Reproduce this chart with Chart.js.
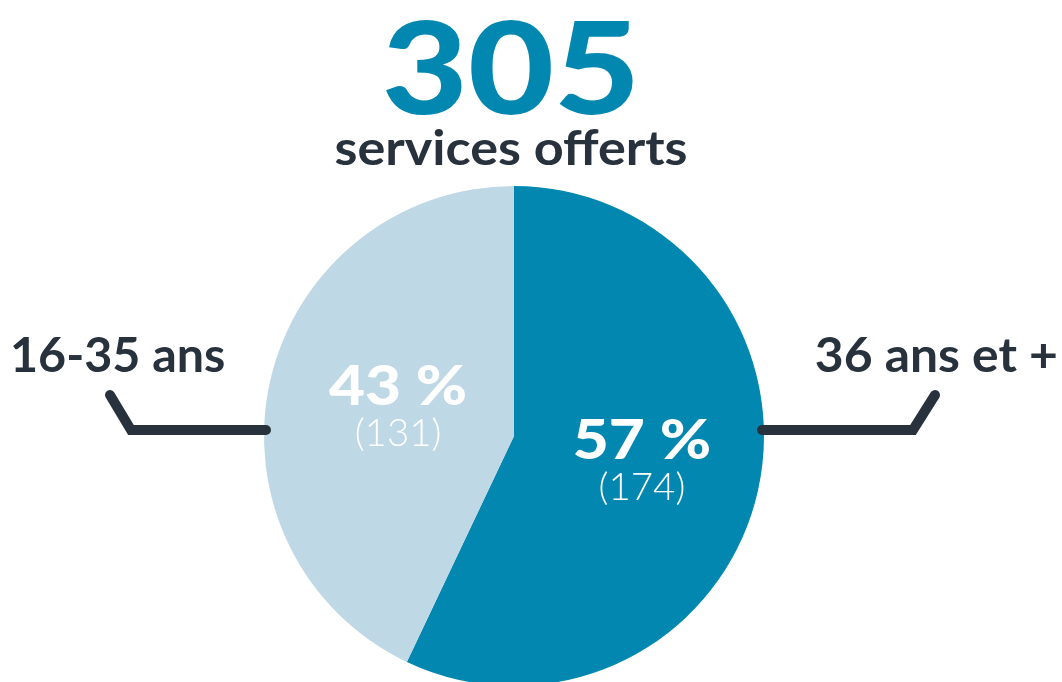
<!DOCTYPE html>
<html>
<head>
<meta charset="utf-8">
<script src="https://cdn.jsdelivr.net/npm/chart.js@4"></script>
<style>
  html, body { margin: 0; padding: 0; background: #fff; overflow: hidden; }
  #wrap { position: relative; width: 1062px; height: 686px; }
</style>
</head>
<body>
<div id="wrap"><canvas id="graph"></canvas></div>
<script>
// données
const categories = ["36 ans et +", "16-35 ans"];
const counts = [174, 131];
const percents = [57, 43];
const total = 305;
const colors = ["#0288b0", "#bfd8e6"];

const ink = "#28323c";
const FONT = "Lato, 'Noto Sans', sans-serif";

// texte élargi horizontalement (lettres plus larges, comme la police d'origine)
function wide(ctx, text, x, y, sx, align) {
  ctx.save();
  ctx.translate(x, y);
  ctx.scale(sx, 1);
  ctx.textAlign = align;
  ctx.fillText(text, 0, 0);
  ctx.restore();
}

// textes et traits autour du camembert
const annotations = {
  id: "annotations",
  afterDatasetsDraw(chart) {
    const ctx = chart.ctx;
    const arcs = chart.getDatasetMeta(0).data;
    const cx = arcs[0].x;
    const r = arcs[0].outerRadius;

    ctx.save();
    ctx.textBaseline = "alphabetic";

    // titre
    ctx.fillStyle = colors[0];
    ctx.font = "900 128px " + FONT;
    wide(ctx, String(total), 511, 114, 1.16, "center");
    ctx.fillStyle = ink;
    ctx.font = "bold 47px " + FONT;
    wide(ctx, "services offerts", 511, 165, 1.11, "center");

    // valeurs dans les parts
    arcs.forEach((arc, i) => {
      const p = arc.tooltipPosition();
      ctx.fillStyle = "#fff";
      ctx.font = "900 56px " + FONT;
      wide(ctx, percents[i] + " %", p.x + 6, p.y - 4, 1.11, "center");
      ctx.font = "300 37px " + FONT;
      wide(ctx, "(" + counts[i] + ")", p.x + 6, p.y + 37, 1.04, "center");
    });

    // étiquettes
    ctx.fillStyle = ink;
    ctx.font = "bold 47px " + FONT;
    wide(ctx, categories[1], 10, 372, 1.03, "left");
    wide(ctx, categories[0], 1058, 372, 1.06, "right");

    // traits
    ctx.strokeStyle = ink;
    ctx.lineWidth = 10;
    ctx.lineCap = "round";
    ctx.lineJoin = "miter";
    ctx.beginPath();
    ctx.moveTo(110, 395);
    ctx.lineTo(131, 430);
    ctx.lineTo(cx - r + 2, 430);
    ctx.stroke();
    ctx.beginPath();
    ctx.moveTo(cx + r - 2, 430);
    ctx.lineTo(913, 430);
    ctx.lineTo(935, 395);
    ctx.stroke();
    ctx.restore();
  },
};

new Chart(document.getElementById("graph"), {
  type: "pie",
  data: {
    labels: categories,
    datasets: [{
      data: counts,
      backgroundColor: colors,
      borderWidth: 0,
    }],
  },
  options: {
    responsive: true,
    maintainAspectRatio: false,
    animation: false,
    layout: { padding: { top: 186, bottom: 0, left: 264, right: 298 } },
    plugins: {
      legend: { display: false },
      tooltip: { enabled: false },
    },
  },
  plugins: [annotations],
});
</script>
</body>
</html>
